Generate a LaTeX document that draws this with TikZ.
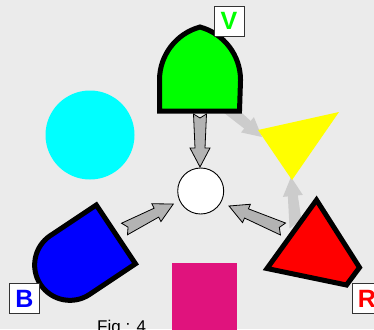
\documentclass[tikz,border=0pt]{standalone}
\usepackage{fontspec}
\setmainfont{Liberation Sans}
\usetikzlibrary{calc}
\definecolor{bg}{HTML}{EBEBEB}
\definecolor{darkarrow}{HTML}{B3B3B3}
\definecolor{lightarrow}{HTML}{CCCCCC}
\definecolor{magentarect}{HTML}{E0137D}
\definecolor{vgreen}{HTML}{00FF00}
\definecolor{bcyan}{HTML}{00FFFF}
\definecolor{byellow}{HTML}{FFFF00}
\definecolor{bred}{HTML}{FF0000}
\definecolor{bblue}{HTML}{0000FF}
\newcommand{\blockarrow}[3]{%
  \coordinate (ba-h) at ($(#2)!19pt!(#1)$);
  \path[#3] ($(#1)!6.5pt!90:(#2)$) -- ($(#1)!4pt!(#2)$) -- ($(#1)!6.5pt!-90:(#2)$)
    -- ($(ba-h)!5pt!90:(#1)$) -- ($(ba-h)!10pt!90:(#1)$) -- (#2)
    -- ($(ba-h)!10pt!-90:(#1)$) -- ($(ba-h)!5pt!-90:(#1)$) -- cycle;
}
\tikzset{
  shapeborder/.style={draw=black, line width=5pt},
  darkarr/.style={fill=darkarrow, draw=black, line width=0.8pt},
  lightarr/.style={fill=lightarrow},
  lbl/.style={draw=black!80, fill=white, line width=0.8pt, minimum width=30pt, minimum height=30pt,
    inner sep=0pt, font=\fontsize{25}{30}\selectfont\bfseries, text height=18pt, text depth=0pt},
}
\begin{document}
\begin{tikzpicture}[x=1pt,y=-1pt]
\useasboundingbox (0,0) rectangle (374,329);
\fill[bg] (0,0) rectangle (374,329);

% named coordinates
\coordinate (gy-t) at (218,100);
\coordinate (gy-h) at (262,137);
\coordinate (ry-t) at (296,228);
\coordinate (ry-h) at (291,177);
\coordinate (a1-t) at (200,114);
\coordinate (a1-h) at (200,167);
\coordinate (a2-t) at (124.5,229);
\coordinate (a2-h) at (173.3,204);
\coordinate (a3-t) at (283,229);
\coordinate (a3-h) at (229,206);

% light arrows (behind)
\blockarrow{gy-t}{gy-h}{lightarr}
\blockarrow{ry-t}{ry-h}{lightarr}

% yellow triangle
\fill[byellow] (339,112) -- (258,130) -- (292,180) -- cycle;

% cyan circle
\node[circle, fill=bcyan, minimum size=89pt, inner sep=0pt] (cyanc) at (90,135) {};

% magenta rectangle
\fill[magentarect] (172,263) rectangle (237,335);

% dark arrow under green
\blockarrow{a1-t}{a1-h}{darkarr}

% green ogive
\draw[shapeborder, fill=vgreen] (159.5,111) -- (159.5,80)
  arc[start angle=180, end angle=254.8, radius=54.9]
  arc[start angle=285.2, end angle=360, radius=54.9]
  -- (239.5,111) -- cycle;

% blue D shape
\draw[shapeborder, fill=bblue] (96.3,205) -- (135.5,263.8) -- (89.6,294.4)
  arc[start angle=56.3, end angle=236.3, radius=35.35] -- cycle;

% red quadrilateral
\draw[shapeborder, fill=bred] (316.5,200) -- (359.5,267.5) -- (346.5,285) -- (267,268.5) -- cycle;

% white hub
\node[circle, draw=black, fill=white, line width=0.9pt, minimum size=46pt, inner sep=0pt] (hub) at (200.7,191) {};

% dark arrows
\blockarrow{a2-t}{a2-h}{darkarr}
\blockarrow{a3-t}{a3-h}{darkarr}

% labels
\node[lbl, text=vgreen] (vlab) at (229,21) {V};
\node[lbl, text=bblue] (blab) at (24.5,298) {B};
\node[lbl, text=bred] (rlab) at (367,298) {R};

% caption
\node[anchor=base west, inner sep=0pt, font=\fontsize{17}{20}\selectfont] (cap) at (97,332) {Fig : 4};
\end{tikzpicture}
\end{document}
